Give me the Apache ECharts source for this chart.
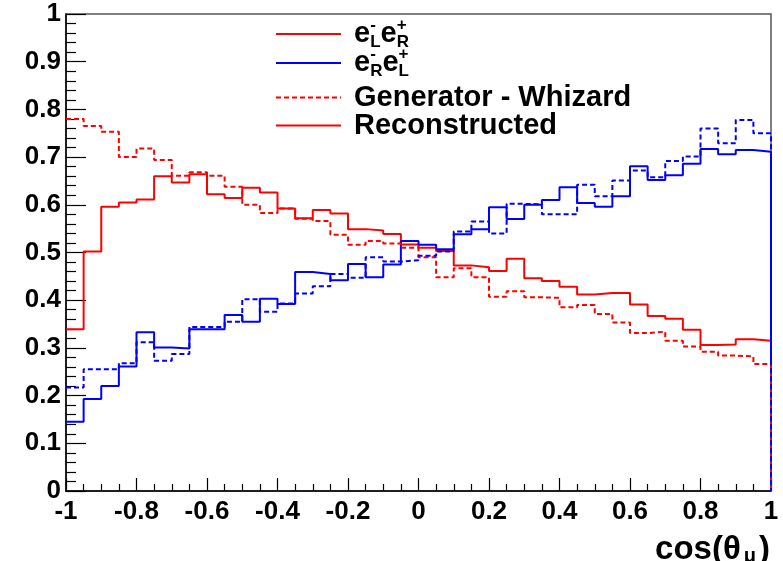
<!DOCTYPE html>
<html>
<head>
<meta charset="utf-8">
<title>cos(theta) distributions</title>
<script src="https://cdn.jsdelivr.net/npm/echarts@6/dist/echarts.min.js"></script>
<style>
  html, body { margin: 0; padding: 0; background: #fff; }
  #chart { width: 783px; height: 561px; }
</style>
</head>
<body>
<div id="chart"></div>
<script>
// 40 bins of 0.05 from -1 to 1
const xMin = -1
const binWidth = 0.05

// e-L e+R, reconstructed (red solid)
const leftReco = [
  0.339, 0.502, 0.596, 0.605, 0.611, 0.660, 0.647, 0.664, 0.622, 0.614,
  0.636, 0.626, 0.592, 0.572, 0.589, 0.582, 0.549, 0.546, 0.539, 0.517,
  0.510, 0.503, 0.473, 0.469, 0.461, 0.487, 0.446, 0.440, 0.428, 0.412,
  0.415, 0.415, 0.391, 0.367, 0.361, 0.338, 0.306, 0.307, 0.318, 0.315
]
// e-L e+R, generator (red dashed)
const leftGen = [
  0.780, 0.765, 0.753, 0.700, 0.718, 0.694, 0.661, 0.668, 0.661, 0.638,
  0.600, 0.583, 0.592, 0.571, 0.566, 0.537, 0.516, 0.524, 0.519, 0.510,
  0.490, 0.448, 0.467, 0.448, 0.407, 0.419, 0.406, 0.405, 0.385, 0.390,
  0.371, 0.353, 0.331, 0.334, 0.315, 0.303, 0.292, 0.284, 0.282, 0.266
]
// e-R e+L, reconstructed (blue solid)
const rightReco = [
  0.145, 0.193, 0.220, 0.261, 0.333, 0.301, 0.299, 0.339, 0.339, 0.369,
  0.355, 0.403, 0.392, 0.459, 0.455, 0.442, 0.476, 0.448, 0.475, 0.524,
  0.516, 0.507, 0.538, 0.549, 0.595, 0.570, 0.600, 0.610, 0.637, 0.604,
  0.596, 0.618, 0.681, 0.652, 0.662, 0.686, 0.717, 0.706, 0.715, 0.711
]
// e-R e+L, generator (blue dashed)
const rightGen = [
  0.217, 0.255, 0.255, 0.268, 0.312, 0.273, 0.287, 0.344, 0.344, 0.355,
  0.402, 0.376, 0.393, 0.414, 0.429, 0.455, 0.447, 0.490, 0.481, 0.484,
  0.493, 0.502, 0.544, 0.565, 0.540, 0.602, 0.601, 0.580, 0.580, 0.642,
  0.618, 0.651, 0.672, 0.658, 0.692, 0.701, 0.760, 0.729, 0.778, 0.750
]

const RED = '#ff0000'
const BLUE = '#0000ff'
const FONT = 'Liberation Sans'

// histogram outline: one point per bin edge, closing down to 0 at the right end
const toSteps = (vals) => {
  const pts = vals.map((v, i) => [+(xMin + i * binWidth).toFixed(4), v])
  pts.push([+(xMin + vals.length * binWidth).toFixed(4), 0])
  return pts
}

const histSeries = (name, vals, color, dashed) => ({
  name: name,
  type: 'line',
  step: 'end',
  data: toSteps(vals),
  symbol: 'none',
  clip: false,
  lineStyle: { color: color, width: 2, type: dashed ? [5, 3] : 'solid' },
  itemStyle: { color: color },
  emphasis: { disabled: true }
})

const legendRich = {
  n: { fontSize: 29, fontWeight: 'bold', fontFamily: FONT, color: '#000', lineHeight: 34, padding: [0, 0, 0, 8] },
  e: { fontSize: 29, fontWeight: 'bold', fontFamily: FONT, color: '#000', lineHeight: 34 },
  sup: { fontSize: 17, fontWeight: 'bold', fontFamily: FONT, color: '#000', lineHeight: 17, verticalAlign: 'top', width: 0 },
  sub: { fontSize: 17, fontWeight: 'bold', fontFamily: FONT, color: '#000', lineHeight: 17, verticalAlign: 'bottom' }
}
const legendLabels = {
  'eLeR': '{n|e}{sup|-}{sub|L}{e|e}{sup|+}{sub|R}',
  'eReL': '{n|e}{sup|-}{sub|R}{e|e}{sup|+}{sub|L}',
  'Generator - Whizard': '{n|Generator - Whizard}',
  'Reconstructed': '{n|Reconstructed}'
}
const legendTops = [17, 46, 83, 111]
const legendNames = ['eLeR', 'eReL', 'Generator - Whizard', 'Reconstructed']

const chart = echarts.init(document.getElementById('chart'))
chart.setOption({
  animation: false,
  backgroundColor: '#fff',
  grid: {
    left: 66, right: 12, top: 14, bottom: 70,
    outerBoundsMode: 'none',
    containLabel: false,
    show: true, borderColor: '#555', borderWidth: 1.5, backgroundColor: 'transparent'
  },
  legend: legendNames.map((nm, i) => ({
    data: [nm],
    left: 275,
    top: legendTops[i],
    padding: 0,
    orient: 'vertical',
    selectedMode: false,
    itemWidth: 65,
    itemHeight: 14,
    itemStyle: { opacity: 0 },
    formatter: (name) => legendLabels[name],
    textStyle: { rich: legendRich }
  })),
  xAxis: {
    type: 'value',
    min: -1,
    max: 1,
    interval: 0.2,
    axisLine: { onZero: false, lineStyle: { color: '#000', width: 1.5 } },
    axisTick: { inside: true, length: 13, lineStyle: { color: '#000', width: 1.2 } },
    minorTick: { show: true, splitNumber: 4, length: 7, lineStyle: { color: '#000', width: 1.2 } },
    splitLine: { show: false },
    axisLabel: { color: '#000', fontSize: 26, fontWeight: 'bold', fontFamily: FONT, margin: 8 },
    name: '{c|cos(θ}{s|μ}{c|)}',
    nameLocation: 'end',
    nameGap: -1,
    nameTextStyle: {
      align: 'right', verticalAlign: 'top', padding: [42, 0, 0, 0],
      rich: {
        c: { fontSize: 33, fontWeight: 'bold', fontFamily: FONT, color: '#000', lineHeight: 33 },
        s: { fontSize: 20, fontWeight: 'bold', fontFamily: FONT, color: '#000', lineHeight: 6, verticalAlign: 'bottom', padding: [0, 3, 0, 3] }
      }
    }
  },
  yAxis: {
    type: 'value',
    min: 0,
    max: 1,
    interval: 0.1,
    axisLine: { show: true, onZero: false, lineStyle: { color: '#000', width: 1.5 } },
    axisTick: { show: true, inside: true, length: 20, lineStyle: { color: '#000', width: 1.2 } },
    minorTick: { show: true, splitNumber: 5, length: 10, lineStyle: { color: '#000', width: 1.2 } },
    splitLine: { show: false },
    axisLabel: { color: '#000', fontSize: 26, fontWeight: 'bold', fontFamily: FONT, margin: 5 }
  },
  series: [
    histSeries('eLeR', leftReco, RED, false),
    histSeries('eReL', rightReco, BLUE, false),
    histSeries('Generator - Whizard', leftGen, RED, true),
    histSeries('eReL gen', rightGen, BLUE, true),
    // legend-only entry
    { name: 'Reconstructed', type: 'line', data: [], symbol: 'none', lineStyle: { color: RED, width: 2 }, itemStyle: { color: RED } }
  ]
})
</script>
</body>
</html>
